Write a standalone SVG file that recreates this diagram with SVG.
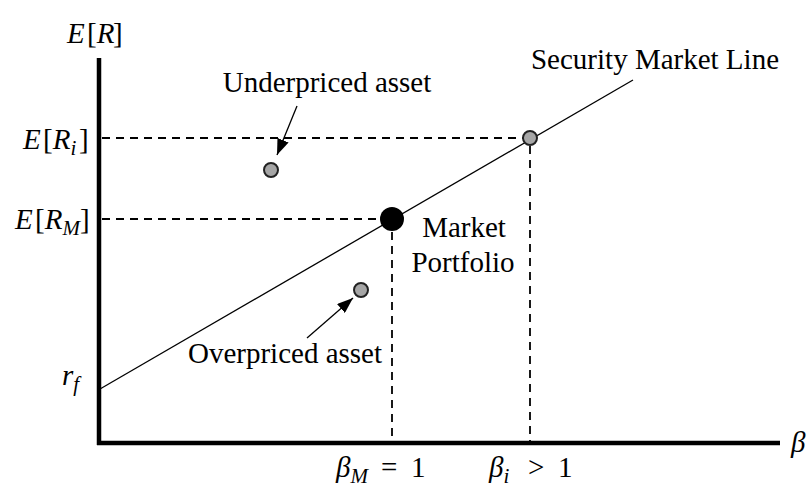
<svg xmlns="http://www.w3.org/2000/svg" width="811" height="488" viewBox="0 0 811 488">
<style>
text{font-family:"Liberation Serif","Times New Roman",serif;fill:#000}
.lbl{font-size:29px}
.m{font-size:29px}
.i{font-style:italic}
.sub{font-size:21px;font-style:italic}
.dash{stroke:#000;stroke-width:1.8;stroke-dasharray:8,6;fill:none}
.axis{stroke:#000;stroke-width:4.5;fill:none}
.pt{fill:#a6a6a6;stroke:#222;stroke-width:2}
.arr{stroke:#000;stroke-width:1.3;fill:none}
</style>
<defs>
<marker id="ah" viewBox="0 0 16 12" refX="16" refY="6" markerWidth="16" markerHeight="12" markerUnits="userSpaceOnUse" orient="auto"><path d="M0,0 L16,6 L0,12 z" fill="#000"/></marker>
</defs>
<g id="axes">
<line class="axis" x1="99" y1="58" x2="99" y2="445"/>
<line class="axis" x1="97" y1="443" x2="780" y2="443"/>
</g>
<g id="connectors">
<line x1="100" y1="389" x2="633" y2="80" stroke="#000" stroke-width="1.3"/>
<line class="dash" x1="102" y1="138" x2="523" y2="138"/>
<line class="dash" x1="102" y1="219" x2="381" y2="219"/>
<line class="dash" x1="392" y1="232" x2="392" y2="441"/>
<line class="dash" x1="530" y1="146" x2="530" y2="441"/>
<line class="arr" x1="297" y1="106" x2="277" y2="155" marker-end="url(#ah)"/>
<line class="arr" x1="307" y1="338" x2="353" y2="298" marker-end="url(#ah)"/>
</g>
<g id="market-portfolio">
<circle cx="392" cy="219" r="12" fill="#000"/>
<text class="lbl" x="464" y="237" text-anchor="middle">Market</text>
<text class="lbl" x="463" y="272" text-anchor="middle">Portfolio</text>
</g>
<g id="asset-i"><circle class="pt" cx="530" cy="138" r="7"/></g>
<g id="underpriced">
<circle class="pt" cx="271" cy="170" r="7"/>
<text class="lbl" x="327" y="92" text-anchor="middle">Underpriced asset</text>
</g>
<g id="overpriced">
<circle class="pt" cx="361" cy="290" r="7"/>
<text class="lbl" x="285" y="363" text-anchor="middle">Overpriced asset</text>
</g>
<g id="sml-label"><text class="lbl" x="655" y="69" text-anchor="middle">Security Market Line</text></g>
<g id="labels">
<text class="m" x="67" y="43"><tspan class="i">E</tspan><tspan x="87">[</tspan><tspan class="i">R</tspan><tspan x="113">]</tspan></text>
<text class="m" x="23" y="149"><tspan class="i">E</tspan><tspan x="43">[</tspan><tspan class="i">R</tspan><tspan class="sub" dy="6">i</tspan><tspan dy="-6" x="79">]</tspan></text>
<text class="m" x="15" y="229"><tspan class="i">E</tspan><tspan x="35">[</tspan><tspan class="i">R</tspan><tspan class="sub" dy="6">M</tspan><tspan dy="-6" x="80">]</tspan></text>
<text class="m i" x="62" y="385">r<tspan class="sub" dy="6">f</tspan></text>
<text class="m" x="336" y="477"><tspan class="i">β</tspan><tspan class="sub" dy="6">M</tspan><tspan dy="-6" x="381">=</tspan><tspan x="411">1</tspan></text>
<text class="m" x="489" y="477"><tspan class="i">β</tspan><tspan class="sub" dy="6">i</tspan><tspan dy="-6" x="528">&gt;</tspan><tspan x="558">1</tspan></text>
<text class="m i" x="791" y="452">β</text>
</g>
</svg>
